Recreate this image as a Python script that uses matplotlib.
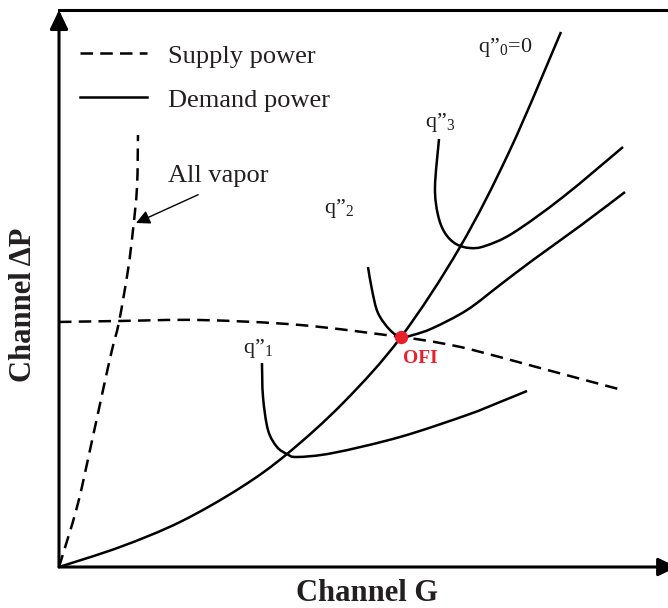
import numpy as np
import matplotlib.pyplot as plt
from matplotlib.path import Path
from matplotlib.patches import PathPatch

plt.rcParams['font.family'] = ['Liberation Serif', 'DejaVu Serif']
plt.rcParams['mathtext.fontset'] = 'custom'
plt.rcParams['mathtext.rm'] = 'Liberation Serif'
plt.rcParams['mathtext.it'] = 'Liberation Serif:italic'
plt.rcParams['mathtext.default'] = 'rm'

# demand curves (channel G, channel dP), arbitrary units
q0_g = [0, 1.002, 1.987, 2.972, 3.744, 4.680, 5.616, 6.585, 7.406, 8.243]
q0_dp = [0, 0.359, 0.808, 1.418, 2.029, 2.962, 4.129, 5.745, 7.487, 9.605]

q1_g = [3.333, 3.350, 3.432, 3.580, 3.744, 3.908, 4.499, 5.599, 6.700, 7.241, 7.685]
q1_dp = [3.662, 3.052, 2.459, 2.154, 2.029, 1.975, 2.047, 2.334, 2.729, 2.962, 3.160]

q2_g = [5.074, 5.140, 5.238, 5.435, 5.616, 5.813, 6.141, 6.700, 7.241, 7.783, 8.555, 9.294]
q2_dp = [5.386, 4.973, 4.560, 4.255, 4.129, 4.165, 4.291, 4.614, 5.063, 5.512, 6.122, 6.732]

q3_g = [6.240, 6.174, 6.223, 6.338, 6.519, 6.749, 6.995, 7.455, 8.276, 9.261]
q3_dp = [7.684, 6.822, 6.320, 5.996, 5.799, 5.727, 5.763, 5.996, 6.643, 7.540]

# supply curves
supply_g = [0, 1.002, 2.315, 3.957, 5.616, 6.256, 6.798, 7.898, 9.245]
supply_dp = [4.399, 4.417, 4.434, 4.345, 4.129, 4.022, 3.896, 3.573, 3.178]

vapor_g = [0, 0.296, 0.509, 0.723, 0.870, 0.985, 1.133, 1.215, 1.281, 1.297]
vapor_dp = [0, 1.077, 2.101, 3.178, 3.896, 4.399, 5.332, 6.050, 6.822, 7.756]

# onset of flow instability
ofi_g, ofi_dp = 5.616, 4.129


def smooth_path(xs, ys):
    # Catmull-Rom through the points, as cubic Bezier segments
    p = np.column_stack([xs, ys]).astype(float)
    p = np.vstack([p[0], p, p[-1]])
    verts = [p[1]]
    codes = [Path.MOVETO]
    for i in range(1, len(p) - 2):
        c1 = p[i] + (p[i + 1] - p[i - 1]) / 6
        c2 = p[i + 1] - (p[i + 2] - p[i]) / 6
        verts += [c1, c2, p[i + 1]]
        codes += [Path.CURVE4] * 3
    return Path(verts, codes)


W, H = 668, 608
fig = plt.figure(figsize=(W / 100, H / 100), dpi=100)
ax = fig.add_axes([59 / W, 41 / H, 609 / W, 557 / H])
ax.set_xlim(0, 10)
ax.set_ylim(0, 10)
ax.set_xticks([])
ax.set_yticks([])
for side in ['left', 'bottom', 'right']:
    ax.spines[side].set_visible(False)
ax.spines['top'].set_linewidth(2.2)

solid = dict(fill=False, lw=1.8, color='black', capstyle='butt', clip_on=False)
dashed = dict(solid, linestyle=(0, (5.0, 2.9)))

for g, dp in [(q0_g, q0_dp), (q1_g, q1_dp), (q2_g, q2_dp), (q3_g, q3_dp)]:
    ax.add_patch(PathPatch(smooth_path(g, dp), **solid))
for g, dp in [(supply_g, supply_dp), (vapor_g, vapor_dp)]:
    ax.add_patch(PathPatch(smooth_path(g, dp), **dashed))

ax.plot([ofi_g], [ofi_dp], 'o', color='#e8202a', markersize=8.6, zorder=5)
ax.text(ofi_g + 0.03, ofi_dp - 0.47, 'OFI', color='#e8202a', fontsize=14,
        fontweight='bold', va='baseline')

# axes with arrow heads
arrow = dict(arrowstyle='-|>,head_length=1.15,head_width=0.55', lw=2.2,
             color='black', mutation_scale=10, shrinkA=0, shrinkB=0)
ax.annotate('', xy=(0, 10.0), xytext=(0, 0), arrowprops=arrow,
            annotation_clip=False)
ax.annotate('', xy=(10.15, 0), xytext=(0, 0), arrowprops=arrow,
            annotation_clip=False)

# legend drawn by hand
ax.plot([0.345, 1.445], [9.228, 9.228], color='black', lw=1.8,
        linestyle=(0, (5.0, 2.9)))
ax.plot([0.345, 1.445], [8.438, 8.438], color='black', lw=1.8)
ax.text(1.79, 9.048, 'Supply power', fontsize=19, va='baseline', color='#231f20')
ax.text(1.79, 8.259, 'Demand power', fontsize=19, va='baseline', color='#231f20')

ax.annotate('All vapor', xy=(1.264, 6.176), xytext=(1.79, 6.912),
            fontsize=19, va='baseline', color='#231f20',
            arrowprops=dict(arrowstyle='-|>,head_length=0.6,head_width=0.3',
                            lw=1.0, color='black', mutation_scale=14,
                            shrinkA=0, shrinkB=0,
                            relpos=(0.3, -0.35)))

lab = dict(fontsize=16, va='baseline', color='#231f20')
ax.text(6.88, 9.246, 'q\u201d$_0$=0', **lab)
ax.text(6.01, 7.899, 'q\u201d$_3$', **lab)
ax.text(4.351, 6.355, 'q\u201d$_2$', **lab)
ax.text(3.021, 3.842, 'q\u201d$_1$', **lab)

fig.text(367 / W, 1 - 601 / H, 'Channel G', fontsize=22, fontweight='bold',
         ha='center', va='baseline', color='#231f20')
fig.text(24 / W, 1 - 305 / H, 'Channel \u0394P', fontsize=22,
         fontweight='bold', rotation=90, ha='center', va='center',
         color='#231f20')

fig.savefig('out.png', dpi=100)
